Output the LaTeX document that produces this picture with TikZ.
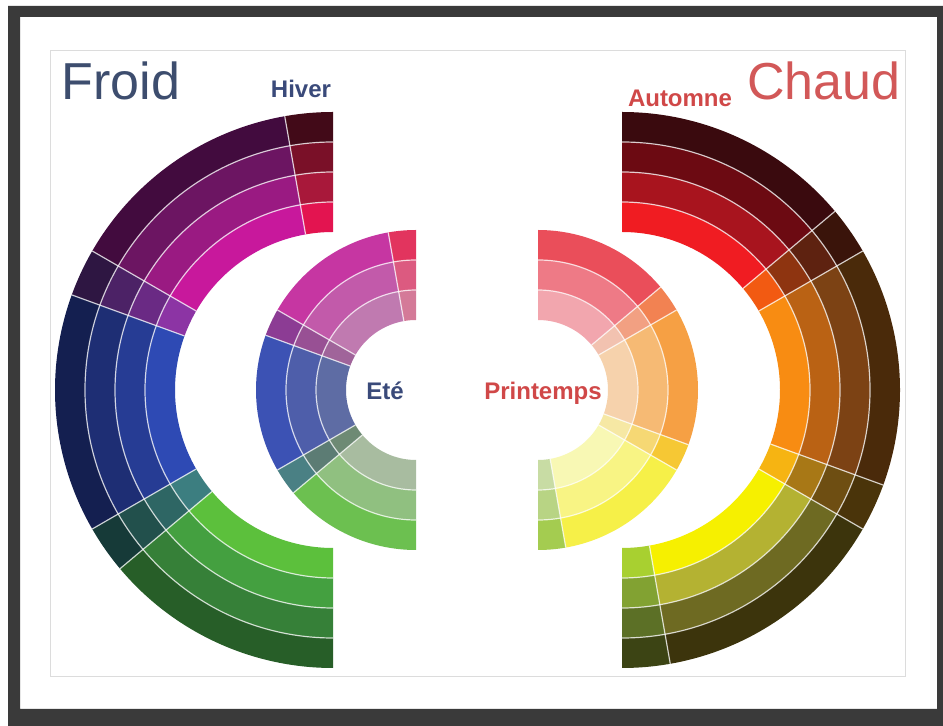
\documentclass[tikz,border=0pt]{standalone}
\usepackage{fontspec}
\setmainfont{Liberation Sans}
\usepackage{tikz}

% Hiver : grand demi-cercle gauche (1 = interieur, 4 = exterieur)
\definecolor{hiverR1}{HTML}{E31450}\definecolor{hiverR2}{HTML}{A8183A}
\definecolor{hiverR3}{HTML}{7A1028}\definecolor{hiverR4}{HTML}{420A18}
\definecolor{hiverM1}{HTML}{C8189C}\definecolor{hiverM2}{HTML}{9A1A82}
\definecolor{hiverM3}{HTML}{6C1562}\definecolor{hiverM4}{HTML}{420B3E}
\definecolor{hiverP1}{HTML}{8C34A4}\definecolor{hiverP2}{HTML}{6A2A84}
\definecolor{hiverP3}{HTML}{4C2266}\definecolor{hiverP4}{HTML}{2E1642}
\definecolor{hiverB1}{HTML}{2E4AB4}\definecolor{hiverB2}{HTML}{263C94}
\definecolor{hiverB3}{HTML}{1E2E74}\definecolor{hiverB4}{HTML}{141F50}
\definecolor{hiverT1}{HTML}{3C7E80}\definecolor{hiverT2}{HTML}{2E6664}
\definecolor{hiverT3}{HTML}{22504C}\definecolor{hiverT4}{HTML}{163A38}
\definecolor{hiverG1}{HTML}{5CC03C}\definecolor{hiverG2}{HTML}{44A040}
\definecolor{hiverG3}{HTML}{368038}\definecolor{hiverG4}{HTML}{275E28}
% Ete : petit demi-cercle gauche
\definecolor{eteR1}{HTML}{D47A98}\definecolor{eteR2}{HTML}{DC5A80}\definecolor{eteR3}{HTML}{E2345E}
\definecolor{eteM1}{HTML}{C07AB0}\definecolor{eteM2}{HTML}{C25AAA}\definecolor{eteM3}{HTML}{C636A2}
\definecolor{eteP1}{HTML}{A0649A}\definecolor{eteP2}{HTML}{985094}\definecolor{eteP3}{HTML}{8C3C94}
\definecolor{eteB1}{HTML}{5E6CA4}\definecolor{eteB2}{HTML}{4E5EAA}\definecolor{eteB3}{HTML}{3C52B4}
\definecolor{eteT1}{HTML}{6E8A74}\definecolor{eteT2}{HTML}{5C7C74}\definecolor{eteT3}{HTML}{4A8084}
\definecolor{eteG1}{HTML}{A8BCA0}\definecolor{eteG2}{HTML}{90C080}\definecolor{eteG3}{HTML}{6CC050}
% Printemps : petit demi-cercle droit
\definecolor{prR1}{HTML}{F2A6AE}\definecolor{prR2}{HTML}{EE7A86}\definecolor{prR3}{HTML}{EA4E5A}
\definecolor{prS1}{HTML}{F2C2B0}\definecolor{prS2}{HTML}{F2A082}\definecolor{prS3}{HTML}{F28252}
\definecolor{prO1}{HTML}{F6D2AC}\definecolor{prO2}{HTML}{F6BA74}\definecolor{prO3}{HTML}{F6A044}
\definecolor{prD1}{HTML}{F6E8A4}\definecolor{prD2}{HTML}{F6D874}\definecolor{prD3}{HTML}{F6C834}
\definecolor{prY1}{HTML}{F8F8B4}\definecolor{prY2}{HTML}{F8F484}\definecolor{prY3}{HTML}{F6F048}
\definecolor{prG1}{HTML}{C8DCA4}\definecolor{prG2}{HTML}{B8D484}\definecolor{prG3}{HTML}{A4CC50}
% Automne : grand demi-cercle droit
\definecolor{auR1}{HTML}{F01C22}\definecolor{auR2}{HTML}{A8141E}
\definecolor{auR3}{HTML}{6C0A12}\definecolor{auR4}{HTML}{3A0A0E}
\definecolor{auS1}{HTML}{F25A12}\definecolor{auS2}{HTML}{8E3410}
\definecolor{auS3}{HTML}{5E2210}\definecolor{auS4}{HTML}{3A140A}
\definecolor{auO1}{HTML}{F88C12}\definecolor{auO2}{HTML}{BA6214}
\definecolor{auO3}{HTML}{7C4214}\definecolor{auO4}{HTML}{4A2A0A}
\definecolor{auD1}{HTML}{F6B412}\definecolor{auD2}{HTML}{A87816}
\definecolor{auD3}{HTML}{6E4E12}\definecolor{auD4}{HTML}{4A340A}
\definecolor{auY1}{HTML}{F6F000}\definecolor{auY2}{HTML}{B4B232}
\definecolor{auY3}{HTML}{6E6A22}\definecolor{auY4}{HTML}{3C340C}
\definecolor{auG1}{HTML}{A8D030}\definecolor{auG2}{HTML}{82A232}
\definecolor{auG3}{HTML}{5C7026}\definecolor{auG4}{HTML}{3C4414}
% textes et cadre
\definecolor{froidblue}{HTML}{3D4D6E}
\definecolor{hiverblue}{HTML}{3A4A7A}
\definecolor{chaudred}{HTML}{D25858}
\definecolor{automnered}{HTML}{D04848}
\definecolor{framegray}{HTML}{3A3A3A}
\definecolor{linegray}{HTML}{DCDCDC}

\tikzset{
  bandsep/.style = {white, opacity=.75, line width=1.2pt},
  title/.style = {anchor=base, inner sep=0pt,
    font=\fontsize{52}{60}\selectfont},
  season/.style = {anchor=base, inner sep=0pt,
    font=\fontsize{24}{28}\selectfont\bfseries}
}

\begin{document}
\begin{tikzpicture}[x=1pt,y=1pt]
  \useasboundingbox (0,0) rectangle (943,726);
  % cadre
  \fill[white] (0,0) rectangle (943,726);
  \fill[framegray,even odd rule] (8,0) rectangle (943,720)
    (20,17) rectangle (937,709);
  \draw[linegray] (50,50) rectangle (905,676);

  % Hiver
  \begin{scope}[shift={(333,336)}]
    \foreach \sa/\sb/\cA/\cB/\cC/\cD in {90/100/hiverR1/hiverR2/hiverR3/hiverR4,
        100/150/hiverM1/hiverM2/hiverM3/hiverM4, 150/160/hiverP1/hiverP2/hiverP3/hiverP4,
        160/210/hiverB1/hiverB2/hiverB3/hiverB4, 210/220/hiverT1/hiverT2/hiverT3/hiverT4,
        220/270/hiverG1/hiverG2/hiverG3/hiverG4}{
      \foreach \c [count=\i] in {\cA,\cB,\cC,\cD}{
        \pgfmathsetmacro\ri{128+30*\i}
        \pgfmathsetmacro\ro{\ri+30}
        \fill[\c] (\sa:\ri) arc[start angle=\sa, end angle=\sb, radius=\ri]
          -- (\sb:\ro) arc[start angle=\sb, end angle=\sa, radius=\ro] -- cycle;
      }
    }
    \foreach \r in {188,218,248}
      \draw[bandsep] (90:\r) arc[start angle=90, end angle=270, radius=\r];
    \foreach \a in {100,150,160,210,220}
      \draw[bandsep] (\a:158) -- (\a:278);
  \end{scope}

  % Ete
  \begin{scope}[shift={(416,336)}]
    \foreach \sa/\sb/\cA/\cB/\cC in {90/100/eteR1/eteR2/eteR3,
        100/150/eteM1/eteM2/eteM3, 150/160/eteP1/eteP2/eteP3,
        160/210/eteB1/eteB2/eteB3, 210/220/eteT1/eteT2/eteT3,
        220/270/eteG1/eteG2/eteG3}{
      \foreach \c [count=\i] in {\cA,\cB,\cC}{
        \pgfmathsetmacro\ri{40+30*\i}
        \pgfmathsetmacro\ro{\ri+30}
        \fill[\c] (\sa:\ri) arc[start angle=\sa, end angle=\sb, radius=\ri]
          -- (\sb:\ro) arc[start angle=\sb, end angle=\sa, radius=\ro] -- cycle;
      }
    }
    \foreach \r in {100,130}
      \draw[bandsep] (90:\r) arc[start angle=90, end angle=270, radius=\r];
    \foreach \a in {100,150,160,210,220}
      \draw[bandsep] (\a:70) -- (\a:160);
  \end{scope}

  % Printemps
  \begin{scope}[shift={(538,336)}]
    \foreach \sa/\sb/\cA/\cB/\cC in {40/90/prR1/prR2/prR3,
        30/40/prS1/prS2/prS3, -20/30/prO1/prO2/prO3,
        -30/-20/prD1/prD2/prD3, -80/-30/prY1/prY2/prY3,
        -90/-80/prG1/prG2/prG3}{
      \foreach \c [count=\i] in {\cA,\cB,\cC}{
        \pgfmathsetmacro\ri{40+30*\i}
        \pgfmathsetmacro\ro{\ri+30}
        \fill[\c] (\sa:\ri) arc[start angle=\sa, end angle=\sb, radius=\ri]
          -- (\sb:\ro) arc[start angle=\sb, end angle=\sa, radius=\ro] -- cycle;
      }
    }
    \foreach \r in {100,130}
      \draw[bandsep] (-90:\r) arc[start angle=-90, end angle=90, radius=\r];
    \foreach \a in {40,30,-20,-30,-80}
      \draw[bandsep] (\a:70) -- (\a:160);
  \end{scope}

  % Automne
  \begin{scope}[shift={(622,336)}]
    \foreach \sa/\sb/\cA/\cB/\cC/\cD in {40/90/auR1/auR2/auR3/auR4,
        30/40/auS1/auS2/auS3/auS4, -20/30/auO1/auO2/auO3/auO4,
        -30/-20/auD1/auD2/auD3/auD4, -80/-30/auY1/auY2/auY3/auY4,
        -90/-80/auG1/auG2/auG3/auG4}{
      \foreach \c [count=\i] in {\cA,\cB,\cC,\cD}{
        \pgfmathsetmacro\ri{128+30*\i}
        \pgfmathsetmacro\ro{\ri+30}
        \fill[\c] (\sa:\ri) arc[start angle=\sa, end angle=\sb, radius=\ri]
          -- (\sb:\ro) arc[start angle=\sb, end angle=\sa, radius=\ro] -- cycle;
      }
    }
    \foreach \r in {188,218,248}
      \draw[bandsep] (-90:\r) arc[start angle=-90, end angle=90, radius=\r];
    \foreach \a in {40,30,-20,-30,-80}
      \draw[bandsep] (\a:158) -- (\a:278);
  \end{scope}

  % textes
  \node[title, text=froidblue] (froid) at (121,626) {Froid};
  \node[season, text=hiverblue] (hiver) at (301,628) {Hiver};
  \node[season, text=automnered] (automne) at (680,619) {Automne};
  \node[title, text=chaudred] (chaud) at (824,626) {Chaud};
  \node[season, text=hiverblue] (ete) at (385,326) {Eté};
  \node[season, text=automnered] (printemps) at (543,326) {Printemps};
\end{tikzpicture}
\end{document}
